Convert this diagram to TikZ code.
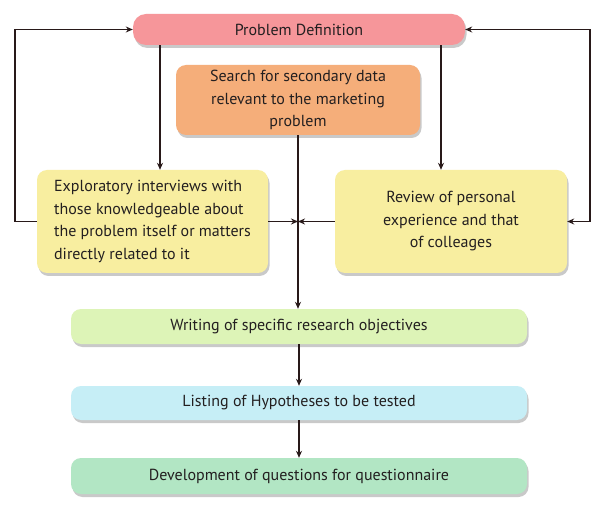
\documentclass[tikz,border=0pt]{standalone}
\usepackage{fontspec}
\setmainfont{PT Sans}
\usetikzlibrary{arrows.meta,shadows}
\definecolor{cpd}{RGB}{246,150,154}
\definecolor{cse}{RGB}{245,174,122}
\definecolor{cye}{RGB}{248,238,160}
\definecolor{cwr}{RGB}{221,244,183}
\definecolor{cli}{RGB}{198,238,246}
\definecolor{cde}{RGB}{178,230,196}
\definecolor{ctx}{RGB}{35,31,32}
\definecolor{cln}{RGB}{40,25,25}
\tikzset{
  boxstyle/.style={rounded corners=10pt, inner sep=2pt, align=center, text=ctx,
    font=\fontsize{16}{22.5}\selectfont,
    drop shadow={shadow xshift=1.5pt, shadow yshift=-3pt, opacity=0.35, fill=black!60}},
  arr/.style={draw=cln, line width=1.1pt, -{Stealth[length=7pt,width=6pt]}},
  arrb/.style={draw=cln, line width=1.1pt, {Stealth[length=7pt,width=6pt]}-{Stealth[length=7pt,width=6pt]}},
  ln/.style={draw=cln, line width=1.1pt}
}
\begin{document}
\begin{tikzpicture}[x=1pt,y=-1pt]
\useasboundingbox (0,0) rectangle (600,513);
\fill[white] (0,0) rectangle (600,513);
\node[boxstyle, fill=cpd, minimum width=332pt, minimum height=31pt, rounded corners=13pt] (PD) at (299,29.5) {Problem Definition};
\node[boxstyle, fill=cse, minimum width=244pt, minimum height=70pt] (S) at (298,100) {Search for secondary data\\relevant to the marketing\\problem};
\node[boxstyle, fill=cye, minimum width=231pt, minimum height=103pt, align=left] (L) at (152.5,221.5) {Exploratory interviews with\\those knowledgeable about\\the problem itself or matters\\directly related to it};
\node[boxstyle, fill=cye, minimum width=232pt, minimum height=103pt] (R) at (451,221.5) {Review of personal\\experience and that\\of colleages};
\node[boxstyle, fill=cwr, minimum width=456pt, minimum height=35pt] (W) at (299,326.5) {Writing of specific research objectives};
\node[boxstyle, fill=cli, minimum width=456pt, minimum height=34pt] (H) at (299,403) {Listing of Hypotheses to be tested};
\node[boxstyle, fill=cde, minimum width=456pt, minimum height=36pt] (D) at (299,476) {Development of questions for questionnaire};
\coordinate (pl) at (160,0);
\coordinate (pr) at (441,0);
\coordinate (lc) at (15,0);
\coordinate (rc) at (590,29.5);
\draw[arr] (L.west) -- (L.west -| lc) |- (PD.west);
\draw[arrb] (PD.east) -- (rc) |- (R.east);
\draw[arr] (PD.south -| pl) -- (L.north -| pl);
\draw[arr] (PD.south -| pr) -- (R.north -| pr);
\draw[arr] (S.south) -- (W.north -| S.south);
\draw[arr] (L.east) -- (L.east -| S.south);
\draw[arr] (R.west) -- (R.west -| S.south);
\draw[arr] (W.south) -- (H.north);
\draw[arr] (H.south) -- (D.north);
\end{tikzpicture}
\end{document}
